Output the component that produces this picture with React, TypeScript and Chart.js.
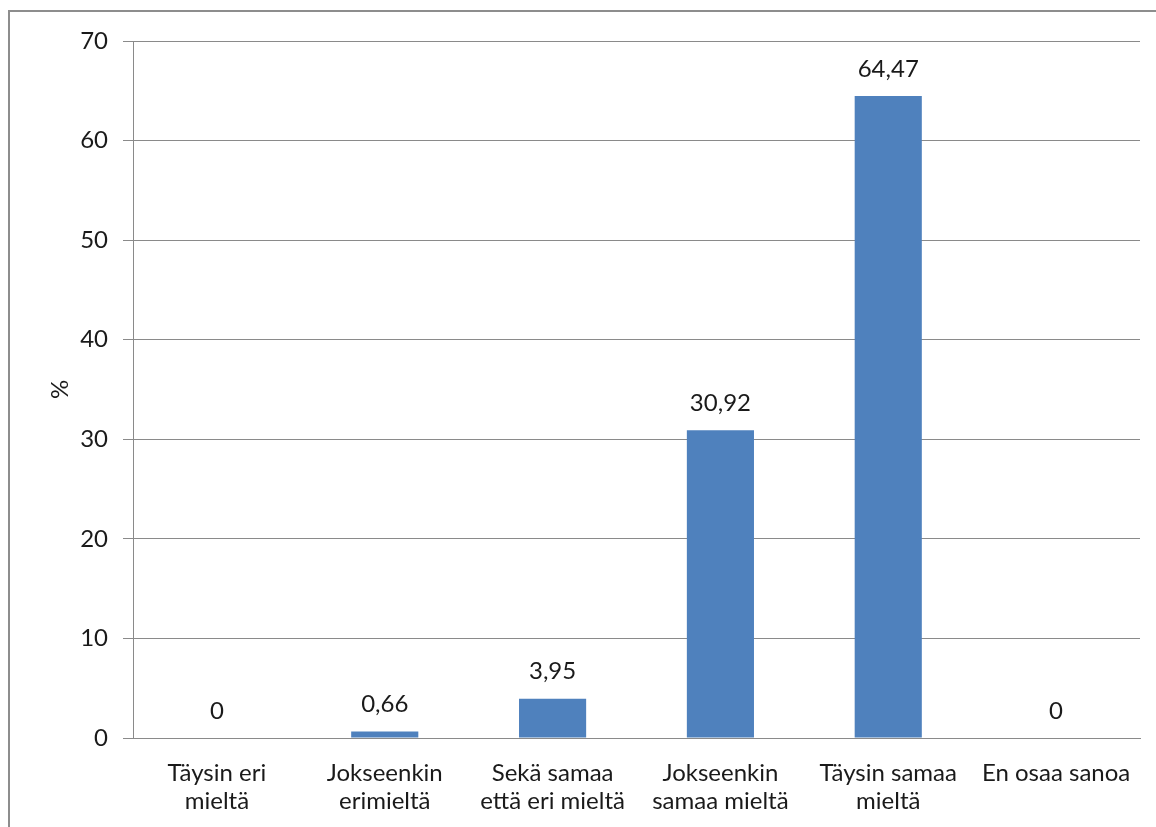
import React, { useEffect, useRef } from "react";
import { Chart, registerables } from "chart.js";

Chart.register(...registerables);

const categories: string[][] = [
  ["Täysin eri", "mieltä"],
  ["Jokseenkin", "erimieltä"],
  ["Sekä samaa", "että eri mieltä"],
  ["Jokseenkin", "samaa mieltä"],
  ["Täysin samaa", "mieltä"],
  ["En osaa sanoa"],
];
const values: number[] = [0, 0.66, 3.95, 30.92, 64.47, 0];
const yTicks: number[] = [0, 10, 20, 30, 40, 50, 60, 70];
const yTitle = "%";

const FONT = "Lato, 'Open Sans', sans-serif";
const TEXT = "#1a1a1a";
const GRID = "#8a8a8a";
const FS = 24;

const fmt = (v: number) => String(v).replace(".", ",");

const labelPlugin = {
  id: "valueLabels",
  afterDatasetsDraw(chart: any) {
    const ctx = chart.ctx;
    const meta = chart.getDatasetMeta(0);
    ctx.save();
    ctx.font = `${FS}px ${FONT}`;
    ctx.fillStyle = TEXT;
    ctx.textAlign = "center";
    ctx.textBaseline = "middle";
    meta.data.forEach((el: any, i: number) => {
      ctx.fillText(fmt(values[i]), el.x, el.y - 27);
    });
    ctx.restore();
  },
};

export default function App() {
  const ref = useRef<HTMLCanvasElement>(null);
  useEffect(() => {
    if (!ref.current) return;
    const chart = new Chart(ref.current, {
      type: "bar",
      data: {
        labels: categories,
        datasets: [
          {
            data: values,
            backgroundColor: "#4f81bd",
            categoryPercentage: 1,
            barPercentage: 0.4,
          },
        ],
      },
      options: {
        animation: false,
        responsive: false,
        devicePixelRatio: 1,
        layout: { padding: { top: 41, right: 16, left: 0, bottom: 0 } },
        plugins: { legend: { display: false }, tooltip: { enabled: false } },
        scales: {
          x: {
            grid: { display: false, drawTicks: false },
            border: { display: true, color: GRID, width: 1 },
            ticks: {
              color: TEXT,
              font: { family: FONT, size: FS, lineHeight: 28 / FS },
              padding: 21,
              maxRotation: 0,
              autoSkip: false,
            },
            afterFit: (s: any) => {
              s.height = 89;
            },
          },
          y: {
            min: 0,
            max: 70,
            afterBuildTicks: (s: any) => {
              s.ticks = yTicks.map((v) => ({ value: v }));
            },
            grid: { color: GRID, lineWidth: 1, drawTicks: true, tickLength: 10 },
            border: { display: true, color: GRID, width: 1 },
            ticks: {
              color: TEXT,
              font: { family: FONT, size: FS },
              padding: 15,
            },
            title: {
              display: true,
              text: yTitle,
              color: TEXT,
              font: { family: FONT, size: FS },
              padding: { top: 46, bottom: 0 },
            },
            afterFit: (s: any) => {
              s.width = 133;
            },
          },
        },
      },
      plugins: [labelPlugin],
    });
    return () => chart.destroy();
  }, []);

  return (
    <div
      style={{
        position: "fixed",
        left: 0,
        top: 0,
        width: 1156,
        height: 827,
        overflow: "hidden",
        background: "#fff",
      }}
    >
      <div
        style={{
          position: "absolute",
          left: 8,
          top: 10,
          width: 1300,
          height: 1000,
          borderLeft: "2px solid #8d8d8d",
          borderTop: "2px solid #8d8d8d",
        }}
      />
      <canvas
        ref={ref}
        width={1156}
        height={827}
        style={{ position: "absolute", left: 0, top: 0, width: 1156, height: 827 }}
      />
    </div>
  );
}
